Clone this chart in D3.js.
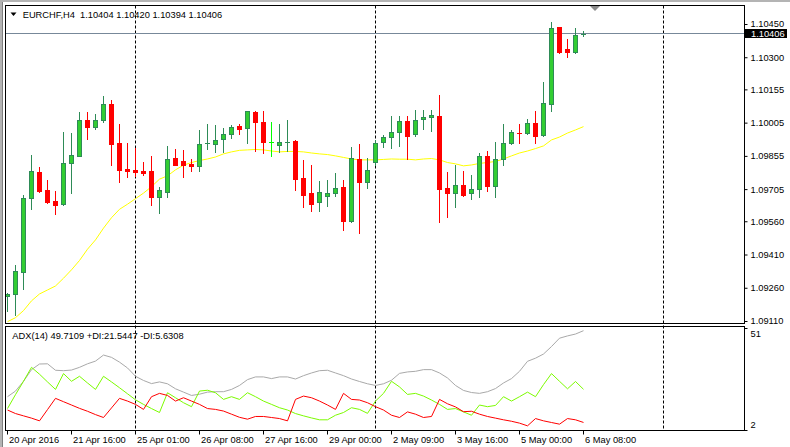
<!DOCTYPE html>
<html><head><meta charset="utf-8">
<script src="https://cdn.jsdelivr.net/npm/d3@7"></script>
<style>
html,body{margin:0;padding:0;background:#fff;}
svg{display:block;font-family:"Liberation Sans",Arial,sans-serif;}
</style></head><body>
<svg id="chart" width="790" height="447"></svg>
<script>
// ---------- DATA ----------
const symbolTitle = "EURCHF,H4  1.10404 1.10420 1.10394 1.10406";
const adxTitle = "ADX(14) 49.7109 +DI:21.5447 -DI:5.6308";
const openP = [1.09225,1.09231,1.09333,1.09664,1.09783,1.09701,1.09652,1.09637,1.09822,1.09856,
1.10016,1.09987,1.10018,1.10089,1.09913,1.09796,1.09792,1.09787,1.09787,1.09671,
1.09694,1.09844,1.09832,1.09817,1.09810,1.09907,1.09907,1.09930,1.09953,1.09990,
1.09980,1.10053,1.10008,1.09917,1.09903,1.09916,1.09922,1.09754,1.09686,1.09646,
1.09673,1.09686,1.09713,1.09560,1.09841,1.09739,1.09826,1.09917,1.09939,1.09962,
1.10011,1.09953,1.10023,1.10029,1.10035,1.09710,1.09689,1.09723,1.09689,1.09705,
1.09853,1.09721,1.09840,1.09912,1.09963,1.09960,1.10002,1.09948,1.10091,1.10436,
1.10337,1.10322,1.10404];
const highP = [1.09238,1.09363,1.09679,1.09859,1.09804,1.09746,1.09697,1.09962,1.09958,1.10052,
1.10052,1.10044,1.10125,1.10107,1.09998,1.09913,1.09889,1.09828,1.09855,1.09714,
1.09900,1.09885,1.09882,1.09841,1.09972,1.09999,1.09994,1.09981,1.09994,1.09999,
1.10058,1.10059,1.10058,1.10008,1.09999,1.10017,1.09927,1.09837,1.09814,1.09742,
1.09746,1.09778,1.09746,1.09895,1.09909,1.09844,1.09927,1.09949,1.10035,1.10035,
1.10035,1.10062,1.10062,1.10062,1.10130,1.09783,1.09814,1.09787,1.09769,1.09868,
1.09877,1.09918,1.09999,1.09972,1.09999,1.10022,1.10058,1.10188,1.10459,1.10437,
1.10382,1.10432,1.10420];
const lowP = [1.09153,1.09138,1.09255,1.09614,1.09694,1.09644,1.09594,1.09635,1.09689,1.09853,
1.09933,1.09978,1.10007,1.09814,1.09739,1.09761,1.09766,1.09770,1.09634,1.09599,
1.09671,1.09813,1.09761,1.09788,1.09788,1.09888,1.09874,1.09874,1.09937,1.09954,
1.09915,1.09879,1.09867,1.09856,1.09874,1.09877,1.09701,1.09626,1.09608,1.09608,
1.09631,1.09676,1.09521,1.09556,1.09509,1.09712,1.09814,1.09897,1.09892,1.09901,
1.09841,1.09946,1.09976,1.09969,1.09558,1.09581,1.09626,1.09674,1.09662,1.09668,
1.09698,1.09671,1.09815,1.09910,1.09915,1.09954,1.09915,1.09946,1.10059,1.10321,
1.10303,1.10319,1.10394];
const closeP = [1.09232,1.09335,1.09664,1.09787,1.09697,1.09649,1.09635,1.09822,1.09858,1.10016,
1.09987,1.10016,1.10088,1.09910,1.09793,1.09788,1.09784,1.09779,1.09671,1.09700,
1.09840,1.09815,1.09815,1.09810,1.09909,1.09913,1.09927,1.09954,1.09985,1.09975,
1.10056,1.10007,1.09917,1.09917,1.09918,1.09917,1.09752,1.09680,1.09640,1.09691,
1.09686,1.09709,1.09563,1.09844,1.09739,1.09790,1.09913,1.09939,1.09962,1.10011,
1.09946,1.10016,1.10029,1.10038,1.09707,1.09689,1.09723,1.09679,1.09705,1.09853,
1.09721,1.09840,1.09912,1.09962,1.09960,1.10002,1.09946,1.10092,1.10431,1.10325,
1.10325,1.10400,1.10406];
const maValues = [1.09107,1.09125,1.09157,1.09201,1.09232,1.09250,1.09268,1.09303,1.09341,1.09383,
1.09434,1.09476,1.09529,1.09576,1.09614,1.09637,1.09662,1.09687,1.09716,1.09750,
1.09765,1.09792,1.09813,1.09825,1.09834,1.09841,1.09850,1.09864,1.09873,1.09880,
1.09882,1.09884,1.09882,1.09877,1.09873,1.09875,1.09875,1.09873,1.09868,1.09864,
1.09861,1.09855,1.09848,1.09841,1.09837,1.09837,1.09837,1.09839,1.09841,1.09840,
1.09840,1.09837,1.09841,1.09843,1.09837,1.09825,1.09819,1.09810,1.09814,1.09821,
1.09825,1.09830,1.09841,1.09855,1.09868,1.09877,1.09888,1.09900,1.09927,1.09940,
1.09958,1.09972,1.09987];
const adxValues = [18.0,20.7,25.4,31.0,33.7,33.8,30.7,30.5,30.8,32.1,
33.8,35.1,38.0,36.9,34.6,31.8,27.8,25.8,24.3,25.1,
24.2,21.8,20.2,18.6,19.2,20.2,20.4,20.4,21.5,23.4,
26.2,27.5,27.5,26.7,27.5,27.5,26.5,28.1,29.4,30.5,
30.7,29.4,28.1,26.5,25.3,24.2,23.4,24.2,25.9,29.2,
29.9,30.2,31.0,31.0,29.4,27.0,23.4,21.0,20.0,19.6,
20.4,21.9,24.6,26.7,30.2,35.0,36.5,38.5,42.1,46.1,
47.2,48.1,49.71];
const plusDI = [12.3,19.0,25.4,32.1,28.8,25.1,21.5,29.1,25.4,27.8,
24.6,21.5,27.8,25.1,22.3,19.4,16.5,14.3,12.3,10.4,
19.9,17.5,15.1,13.2,20.7,21.1,19.9,16.7,18.0,16.7,
19.9,18.0,15.9,14.3,12.7,11.6,9.9,8.8,7.8,6.9,
6.9,9.1,10.4,12.7,11.9,10.0,15.9,19.6,25.4,22.7,
19.1,19.6,18.3,16.4,14.3,11.9,12.3,10.7,9.1,14.0,
13.2,13.8,18.0,15.9,18.0,20.2,18.0,23.8,29.1,25.4,
21.8,25.3,21.54];
const minusDI = [11.6,9.9,8.8,7.7,6.4,11.8,17.2,15.6,14.0,12.4,
11.0,9.4,8.0,12.6,17.2,15.9,14.3,11.9,18.0,19.6,
18.6,15.9,17.5,15.9,14.3,12.3,11.9,11.1,9.6,8.1,
7.2,8.5,8.5,8.0,7.5,6.4,16.7,18.3,17.5,15.9,
14.0,11.9,19.6,16.7,16.4,15.1,13.2,11.6,9.1,8.0,
10.7,9.6,8.0,8.5,16.7,14.6,13.1,10.8,11.0,9.6,
8.5,7.7,6.9,6.2,5.3,4.0,7.5,6.4,5.6,4.8,
7.5,6.9,5.63];
const priceTicks = [1.10450,1.10300,1.10155,1.10005,1.09855,1.09705,1.09560,1.09410,1.09260,1.09110];
const adxTicks = [51, 2];
const timeLabels = ["20 Apr 2016","21 Apr 16:00","25 Apr 01:00","26 Apr 08:00","27 Apr 16:00","29 Apr 00:00","2 May 09:00","3 May 16:00","5 May 00:00","6 May 08:00"];
const timeLabelBars = [0,8,16,24,32,40,48,56,64,72];
const separatorBars = [16,46,82];
const lastPrice = 1.10406;
const shiftMarkerBar = 73.5;

// ---------- LAYOUT ----------
const FONT = 9.3;
const svg = d3.select("#chart");
const L = 5.5, R = 744.5, T = 5.5, B1 = 323.5, T2 = 326.5, B2 = 430.5;

const x = d3.scaleLinear().domain([0,72]).range([7,583]);
const y = d3.scaleLinear().domain([1.09110,1.10450]).range([321,24]);
const yA = d3.scaleLinear().domain([2,51]).range([430,328]);

// window chrome
svg.append("rect").attr("x",0).attr("y",0).attr("width",790).attr("height",2).attr("fill","#b4b4b4");
svg.append("rect").attr("x",0).attr("y",0).attr("width",2).attr("height",447).attr("fill","#b4b4b4");
svg.append("line").attr("x1",2.5).attr("x2",2.5).attr("y1",2).attr("y2",447).attr("stroke","#808080");

// clip paths
const defs = svg.append("defs");
defs.append("clipPath").attr("id","cMain").append("rect").attr("x",L+0.5).attr("y",T+0.5).attr("width",R-L-1).attr("height",B1-T-1);
defs.append("clipPath").attr("id","cInd").append("rect").attr("x",L+0.5).attr("y",T2+0.5).attr("width",R-L-1).attr("height",B2-T2-1);

// separators
svg.append("g").selectAll("line").data(separatorBars).join("line")
  .attr("x1",d=>Math.round(x(d))+0.5).attr("x2",d=>Math.round(x(d))+0.5)
  .attr("y1",T).attr("y2",B2)
  .attr("stroke","#000").attr("stroke-dasharray","3,2");

// current price line
const yLast = Math.floor(y(lastPrice))+0.5;
svg.append("line").attr("x1",L).attr("x2",R).attr("y1",yLast).attr("y2",yLast).attr("stroke","#778899");

// main group
const gMain = svg.append("g").attr("clip-path","url(#cMain)");

// MA
gMain.append("path").datum(maValues)
  .attr("d", d3.line().x((d,i)=>x(i)+0.5).y(d=>y(d)))
  .attr("fill","none").attr("stroke","#ffff00").attr("stroke-width",1);

// candles
const bars = d3.range(openP.length).map(i=>({i,o:openP[i],h:highP[i],l:lowP[i],c:closeP[i]}));
const cg = gMain.append("g").selectAll("g").data(bars).join("g");
cg.each(function(d){
  const g = d3.select(this);
  const cx = Math.round(x(d.i));
  const up = d.c >= d.o;
  const doji = d.c === d.o;
  const line = doji ? "#00ff00" : (up ? "#2e8b57" : "#ff0000");
  g.append("line").attr("x1",cx+0.5).attr("x2",cx+0.5)
    .attr("y1",Math.round(y(d.h))).attr("y2",Math.round(y(d.l))+1)
    .attr("stroke",line);
  const top = Math.round(y(Math.max(d.o,d.c)));
  const bot = Math.round(y(Math.min(d.o,d.c)));
  if (bot - top < 2) {
    g.append("line").attr("x1",cx-2).attr("x2",cx+3)
      .attr("y1",Math.round(y(d.c))+0.5).attr("y2",Math.round(y(d.c))+0.5)
      .attr("stroke",line);
  } else {
    g.append("rect").attr("x",cx-1.5).attr("y",top+0.5)
      .attr("width",4).attr("height",bot-top)
      .attr("fill", up ? "#32cd32" : "#ff0000")
      .attr("stroke", up ? "#2e8b57" : "#ff0000");
  }
});

// frames
svg.append("rect").attr("x",L).attr("y",T).attr("width",R-L).attr("height",B1-T).attr("fill","none").attr("stroke","#000");
svg.append("rect").attr("x",L).attr("y",T2).attr("width",R-L).attr("height",B2-T2).attr("fill","none").attr("stroke","#000");

// shift marker
svg.append("path")
  .attr("d", d3.line()([[x(shiftMarkerBar)-5,6],[x(shiftMarkerBar)+5,6],[x(shiftMarkerBar),11]]) + "Z")
  .attr("fill","#8a8a8a");

// title
svg.append("path").attr("d","M10.5,12.5L16.5,12.5L13.5,16Z").attr("fill","#000");
svg.append("text").attr("x",22.7).attr("y",17.5).attr("font-size",FONT)
  .style("white-space","pre").attr("fill","#000").text(symbolTitle);

// price axis
const pAxis = svg.append("g").attr("transform",`translate(${R},0)`)
  .call(d3.axisRight(y).tickValues(priceTicks).tickSize(3).tickPadding(3).tickFormat(d=>d.toFixed(5)));
pAxis.select(".domain").remove();
pAxis.selectAll("text").attr("font-size",FONT).attr("font-family",null).attr("fill","#000");
pAxis.selectAll("line").attr("stroke","#000");

// last price label
svg.append("rect").attr("x",R+0.5).attr("y",yLast-4.5).attr("width",42).attr("height",9).attr("fill","#000");
svg.append("text").attr("x",751).attr("y",yLast).attr("dy","0.34em").attr("font-size",FONT).attr("fill","#fff").text(lastPrice.toFixed(5));

// indicator
const gInd = svg.append("g").attr("clip-path","url(#cInd)");
const lineA = d3.line().x((d,i)=>x(i)+0.5).y(d=>yA(d));
gInd.append("path").datum(adxValues).attr("d",lineA).attr("fill","none").attr("stroke","#a9a9a9");
gInd.append("path").datum(plusDI).attr("d",lineA).attr("fill","none").attr("stroke","#7cfc00");
gInd.append("path").datum(minusDI).attr("d",lineA).attr("fill","none").attr("stroke","#ff0000");

svg.append("text").attr("x",12.3).attr("y",338.5).attr("font-size",FONT).attr("fill","#000").text(adxTitle);

const aAxis = svg.append("g").attr("transform",`translate(${R},0)`)
  .call(d3.axisRight(yA).tickValues(adxTicks).tickSize(3).tickPadding(3).tickFormat(d3.format("d")));
aAxis.select(".domain").remove();
aAxis.selectAll("text").attr("font-size",FONT).attr("font-family",null).attr("fill","#000")
  .attr("dy",d=> d===adxTicks[0] ? "0.95em" : "-0.3em");
aAxis.selectAll("line").attr("stroke","#000");

// time axis
const tAxis = svg.append("g").attr("transform",`translate(0,${B2})`)
  .call(d3.axisBottom(x).tickValues(timeLabelBars).tickSize(4).tickPadding(2)
    .tickFormat((d,i)=>timeLabels[i]));
tAxis.select(".domain").remove();
tAxis.selectAll("text").attr("font-size",FONT).attr("font-family",null).attr("fill","#000")
  .attr("text-anchor","start").attr("x",1.5);
tAxis.selectAll("line").attr("stroke","#000");
</script>
</body></html>
